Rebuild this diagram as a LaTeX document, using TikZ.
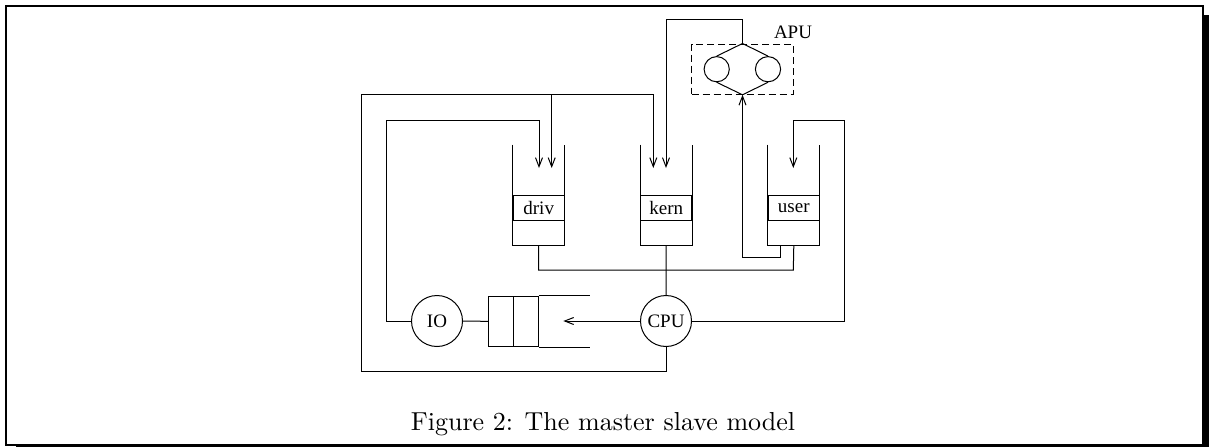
\documentclass[tikz,border=0pt]{standalone}
\usepackage{fontspec}
\newfontfamily\labelfont{Liberation Serif}
\newfontfamily\capfont{lmroman10-regular}[Extension=.otf]
\usetikzlibrary{arrows.meta}

\begin{document}
\begin{tikzpicture}[x=1pt,y=-1pt,line width=1pt,
  tip/.style={-{Straight Barb[length=9pt,width=7pt,line width=1pt]}},
  cell/.style={draw,minimum width=51pt,minimum height=24.3pt,inner sep=0pt,
    font=\labelfont\fontsize{19}{22}\selectfont},
  qcell/.style={draw,minimum width=25pt,minimum height=50.7pt,inner sep=0pt},
  unit/.style={draw,circle,minimum size=51pt,inner sep=0pt,
    font=\labelfont\fontsize{19}{22}\selectfont},
  proc/.style={draw,circle,minimum size=25.2pt,inner sep=0pt},
  lab/.style={font=\labelfont\fontsize{19}{22}\selectfont,inner sep=0pt}]

% page frame with shadow
\useasboundingbox (0,0) rectangle (1209,447);
\fill[white] (0,0) rectangle (1209,447);
\draw[line width=2.5pt] (6,6) rectangle (1203,445);
\fill (1204.2,15) rectangle (1209,447);
\fill (16,446.2) rectangle (1209,447);

% the three run queues
\node[cell] (driv) at (538.7,207.9) {driv};
\node[cell] (kern) at (666.2,207.9) {kern};
\node[cell] (user) at (793.8,207.9) {user};
\foreach \s in {driv,kern,user}{
  \draw ([yshift=50.7pt]\s.north west) -- ([yshift=-25pt]\s.south west)
     -- ([yshift=-25pt]\s.south east) -- ([yshift=50.7pt]\s.north east);
  \coordinate (\s-b) at ([yshift=-25pt]\s.south);
}

% arrival points inside the queues
\coordinate (driv-a1) at (539,168);
\coordinate (driv-a2) at (551.7,168);
\coordinate (kern-a1) at (653.3,168);
\coordinate (kern-a2) at (666,168);
\coordinate (user-a)  at (793.3,168);

% processors
\node[unit] (IO)  at (437,321) {IO};
\node[unit] (CPU) at (666,321) {CPU};

% IO request queue
\node[qcell] (q1) at (500.8,321.35) {};
\node[qcell] (q2) at (526.2,321.35) {};
\coordinate (qend) at (590,321);
\draw (q2.north east) -- (qend |- q2.north);
\draw (q2.south east) -- (qend |- q2.south);
\coordinate (qin) at (563.3,321);

% APU
\node[draw,dash pattern=on 7pt off 4pt,minimum width=101.6pt,minimum height=50.3pt,inner sep=0pt]
  (apu) at (742.5,69.15) {};
\node[proc] (c1) at (716.7,69.2) {};
\node[proc] (c2) at (768,69.2) {};
\draw (c1.north) -- (apu.north) -- (c2.north);
\draw (c1.south) -- (apu.south) -- (c2.south);
\node[lab] at (793,32) {APU};

% routing points
\coordinate (at) at (742.5,19);
\coordinate (lo1) at (361,371);
\coordinate (lo2) at (361,94.3);
\coordinate (jd) at (551.7,94.3);
\coordinate (il) at (386,120);
\coordinate (ur) at (844.3,120);
\coordinate (ub) at (793.3,270);
\coordinate (ua) at (742.5,257.7);

% connections
\draw[tip] (apu.north) -- (at) -| (kern-a2);
\draw[tip] (CPU.south) |- (lo1) -- (lo2) -| (kern-a1);
\draw[tip] (jd) -- (driv-a2);
\draw[tip] (IO.west) -| (il) -| (driv-a1);
\draw[tip] (CPU.east) -| (ur) -| (user-a);
\draw (driv-b) |- (ub) -- (user-b);
\draw (kern-b) -- (CPU.north);
\draw[tip] ([xshift=-13pt]user-b) |- (ua) -- (apu.south);
\draw (IO.east) -- (q1.west);
\draw[tip] (CPU.west) -- (qin);

% caption
\node[anchor=base,inner sep=0pt,font=\capfont\fontsize{26}{30}\selectfont] (cap) at (603,430)
  {Figure 2: The master slave model};
\end{tikzpicture}
\end{document}
